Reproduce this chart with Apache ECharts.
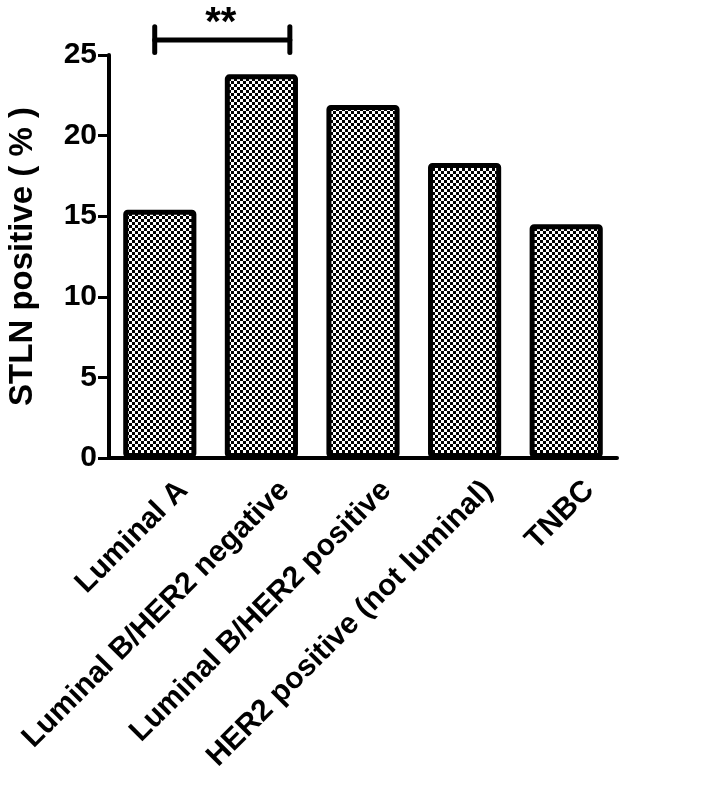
<!DOCTYPE html>
<html>
<head>
<meta charset="utf-8">
<script src="https://cdn.jsdelivr.net/npm/echarts@6/dist/echarts.min.js"></script>
<style>
  html, body { margin: 0; padding: 0; background: #fff; }
  #main { width: 724px; height: 787px; }
</style>
</head>
<body>
<div id="main"></div>
<script>
  const categories = ['Luminal A', 'Luminal B/HER2 negative', 'Luminal B/HER2 positive', 'HER2 positive (not luminal)', 'TNBC'];
  const stlnPositive = [15.4, 23.8, 21.9, 18.3, 14.5];
  const yTicks = { min: 0, max: 25, interval: 5 };
  // significance bracket between Luminal A and Luminal B/HER2 negative (x in category units)
  const bracketX = [-0.05, 1.28];
  const bracketY = { mid: 25.93, top: 26.75, bottom: 25.15 };
  const starLabel = '**';
  const starPos = [0.6, 26.95];

  const font = "'Liberation Sans', Arial, sans-serif";

  // checkerboard fill like the prism bars
  const tile = document.createElement('canvas');
  tile.width = 6;
  tile.height = 6;
  const ctx = tile.getContext('2d');
  ctx.fillStyle = '#fff';
  ctx.fillRect(0, 0, 6, 6);
  ctx.fillStyle = '#000';
  ctx.fillRect(0, 0, 3, 3);
  ctx.fillRect(3, 3, 3, 3);

  const myechart = echarts.init(document.getElementById('main'));

  const bracketLine = {
    type: 'line',
    xAxisIndex: 1,
    symbol: 'none',
    clip: false,
    silent: true,
    lineStyle: { color: '#000', width: 5, cap: 'round' }
  };

  const option = {
    animation: false,
    grid: { left: 109, right: 107, top: 55, bottom: 329, outerBoundsMode: 'none' },
    xAxis: [
      {
        type: 'category',
        data: categories,
        axisLine: { lineStyle: { color: '#000', width: 4 } },
        axisTick: { alignWithLabel: true, length: 12, lineStyle: { color: '#000', width: 3 } },
        axisLabel: {
          interval: 0,
          rotate: 45,
          color: '#000',
          fontFamily: font,
          fontWeight: 'bold',
          fontSize: 30,
          margin: 30,
          verticalAlign: 'top',
          padding: [0, -18, 0, 0]
        }
      },
      { type: 'value', min: -0.5, max: 4.5, show: false }
    ],
    yAxis: {
      type: 'value',
      min: yTicks.min,
      max: yTicks.max,
      interval: yTicks.interval,
      name: 'STLN positive ( % )',
      nameLocation: 'middle',
      nameGap: 70,
      nameTextStyle: { color: '#000', fontFamily: font, fontWeight: 'bold', fontSize: 33 },
      axisLine: { show: true, onZero: false, lineStyle: { color: '#000', width: 4 } },
      axisTick: { show: true, length: 11, lineStyle: { color: '#000', width: 3 } },
      splitLine: { show: false },
      axisLabel: { color: '#000', fontFamily: font, fontWeight: 'bold', fontSize: 30, margin: 12 }
    },
    series: [
      {
        type: 'bar',
        data: stlnPositive,
        barWidth: '72%',
        itemStyle: {
          color: { image: tile, repeat: 'repeat' },
          borderColor: '#000',
          borderWidth: 5,
          borderRadius: 2
        }
      },
      Object.assign({}, bracketLine, { data: [[bracketX[0], bracketY.top], [bracketX[0], bracketY.bottom]] }),
      Object.assign({}, bracketLine, { data: [[bracketX[0], bracketY.mid], [bracketX[1], bracketY.mid]] }),
      Object.assign({}, bracketLine, { data: [[bracketX[1], bracketY.top], [bracketX[1], bracketY.bottom]] }),
      {
        type: 'scatter',
        xAxisIndex: 1,
        clip: false,
        silent: true,
        symbolSize: 0,
        itemStyle: { opacity: 1 },
        data: [starPos],
        label: {
          show: true,
          position: 'inside',
          formatter: starLabel,
          color: '#000',
          textBorderWidth: 0,
          fontFamily: font,
          fontWeight: 'bold',
          fontSize: 40
        }
      }
    ]
  };

  myechart.setOption(option);
</script>
</body>
</html>
